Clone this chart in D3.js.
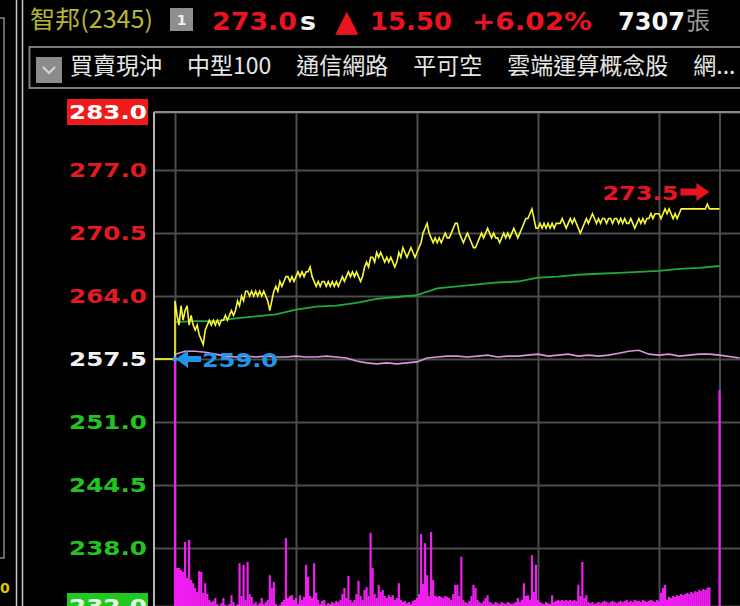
<!DOCTYPE html>
<html><head><meta charset="utf-8">
<script src="https://cdn.jsdelivr.net/npm/d3@7"></script>
<style>html,body{margin:0;padding:0;background:#000;overflow:hidden}svg{display:block}</style>
</head><body>
<svg id="c" width="740" height="606"></svg>
<script>
// ---------------- data ----------------
const stockName = "智邦(2345)";
const lastPrice = 273.0, priceChange = 15.50, changePct = 6.02, totalVolume = 7307;
const refPrice = 257.5, dayHigh = 273.5, dayLow = 259.0;
const tags = ["買賣現沖", "中型100", "通信網路", "平可空", "雲端運算概念股", "網..."];
const priceTicks = [283.0, 277.0, 270.5, 264.0, 257.5, 251.0, 244.5, 238.0, 232.0];
const gridMinutes = [0, 60, 120, 180, 240, 270]; // 9:00 ... 13:30

// per-minute trade price, 9:00 .. 13:30
const prices = [
 263.5,262.0,261.0,263.0,261.5,262.5,263.0,261.0,262.0,261.0,
 260.5,261.0,260.0,259.5,259.0,260.5,261.0,261.5,261.0,261.5,
 261.0,261.5,261.0,261.5,261.5,262.0,261.5,262.0,262.5,262.0,
 262.5,263.5,263.0,264.0,263.5,264.5,264.5,264.0,264.5,264.0,
 264.5,264.0,264.5,264.0,264.5,264.0,263.5,262.5,263.5,264.5,
 265.0,264.5,265.5,265.0,265.5,266.0,266.0,265.5,266.0,265.5,
 266.0,266.5,266.0,266.5,266.0,266.5,266.5,267.0,266.0,265.5,
 265.0,265.5,265.0,265.5,265.5,265.0,265.5,265.0,265.5,265.0,
 265.5,265.0,265.5,266.0,265.5,266.0,266.5,266.0,266.5,266.0,
 266.5,266.0,265.5,266.0,267.0,267.5,267.0,268.0,268.0,267.5,
 268.5,268.0,268.5,268.0,267.5,268.0,267.5,268.0,267.5,267.0,
 267.5,268.5,268.0,269.0,268.5,268.0,268.5,269.0,268.5,268.0,
 268.5,269.0,269.5,270.5,271.0,271.5,270.5,270.0,269.5,270.0,
 269.5,270.0,269.5,270.0,270.5,270.0,270.0,270.5,271.0,271.5,
 271.5,270.5,270.0,269.5,270.0,270.5,270.0,269.5,269.0,269.0,
 269.5,270.0,270.5,270.0,270.5,271.0,270.5,270.0,270.5,270.0,
 270.0,269.5,270.0,270.5,270.0,270.5,270.0,270.5,271.0,270.5,
 270.0,270.5,271.0,271.5,272.0,272.0,272.5,273.0,272.0,271.0,
 271.0,271.5,271.0,271.5,271.0,271.5,271.0,271.5,271.0,271.5,
 271.5,271.5,272.0,271.5,271.0,271.5,272.0,271.5,272.0,271.5,
 271.0,270.5,271.0,271.5,272.0,271.5,272.0,272.5,272.0,271.5,
 272.0,271.5,272.0,272.0,271.5,272.0,272.0,271.5,272.0,272.0,
 271.5,272.0,271.5,272.0,271.5,271.5,272.0,271.5,271.0,271.5,
 272.0,271.5,272.0,271.5,272.0,272.0,272.5,272.0,272.5,272.5,
 272.5,272.0,272.5,273.0,272.5,273.0,272.5,272.0,272.5,272.0,
 272.5,273.0,273.0,273.0,273.0,273.0,273.0,273.0,273.0,273.0,
 273.0,273.0,273.0,273.0,273.5,273.0,273.0,273.0,273.0,273.0,
 273.0
];

// per-minute volume (lots)
const volumes = [
 640,110,110,105,100,175,85,180,80,72,
 60,50,102,100,48,72,45,30,25,28,
 35,20,15,22,35,18,12,20,42,25,
 15,20,122,40,118,30,125,45,38,20,
 25,18,22,35,20,25,30,92,60,75,
 20,15,18,25,30,185,35,40,42,30,
 35,20,42,30,38,118,88,40,35,122,
 48,30,20,28,30,18,22,20,25,22,
 28,25,30,45,60,35,90,30,25,30,
 45,78,40,30,55,62,40,198,110,45,
 35,68,50,55,40,35,42,38,42,30,
 35,72,30,25,28,22,25,20,28,30,
 35,45,195,70,172,92,40,200,80,40,
 38,40,38,35,40,38,35,30,45,68,
 68,40,138,30,25,22,28,40,68,60,
 30,25,22,28,35,42,25,22,20,25,
 22,20,25,22,20,25,22,20,22,25,
 35,25,30,72,40,42,30,142,50,118,
 30,25,22,20,25,22,20,42,25,28,
 30,28,30,28,30,28,30,28,30,28,
 68,40,125,35,42,25,22,25,20,22,
 25,22,25,28,25,22,25,28,25,22,
 25,28,25,28,30,25,28,25,30,28,
 28,25,30,28,25,28,30,28,25,30,
 28,48,60,68,30,38,35,40,38,42,
 40,45,42,45,48,45,50,48,52,50,
 55,52,58,55,60,62,0,0,0,0,
 555
];

// average price line, every 10 minutes
const avgMinutes = [0,10,20,30,40,50,60,70,80,90,100,110,120,130,140,150,160,170,180,190,200,210,220,230,240,250,260,270];
const avgPrices  = [261.3,261.4,261.4,261.7,261.9,262.1,262.6,262.9,263.0,263.3,263.7,263.9,264.1,264.8,265.0,265.2,265.4,265.5,265.9,266.0,266.2,266.3,266.4,266.5,266.6,266.8,266.9,267.1];

// pink reference line, every 5 minutes
const pinkMinutes = [0,5,10,15,20,25,30,35,40,45,50,55,60,65,70,75,80,85,90,95,100,105,110,115,120,125,130,135,140,145,150,155,160,165,170,175,180,185,190,195,200,205,210,215,220,225,230,235,240,245,250,255,260,265,270,280];
const pinkValues  = [258.0,258.3,258.3,258.2,258.0,257.8,257.7,257.8,257.7,257.8,257.7,257.7,257.8,257.7,257.7,257.8,257.7,257.6,257.3,257.1,257.0,257.1,257.0,257.1,257.2,257.6,257.7,257.8,257.8,257.7,257.8,257.9,257.7,257.8,257.8,257.9,258.0,257.8,257.9,258.0,257.8,257.9,257.8,257.9,258.1,258.3,258.4,258.0,257.9,258.0,257.8,257.9,258.0,258.0,257.9,257.6];

// ---------------- layout ----------------
const svg = d3.select("#c");
const W = 740, H = 606;
const plotLeft = 154, plotRight = 760, plotBottom = 640;
const x = d3.scaleLinear().domain([0, 270]).range([175, 719.5]);
const y = d3.scaleLinear().domain([232, 283]).range([606, 112]);
const yVol = d3.scaleLinear().domain([0, 700]).range([612, 332]);
const plotTop = y(283);

const RED = "#ea1420", GREEN = "#22c422", WHITE = "#f2f2f2";
const NUMFONT = "'DejaVu Sans', Verdana, sans-serif";
const CJK = "'Noto Sans CJK TC', 'Noto Sans CJK SC', sans-serif";

svg.append("rect").attr("width", W).attr("height", H).attr("fill", "#000");

// left decorations
svg.append("rect").attr("x", -10).attr("y", 18).attr("width", 14).attr("height", 540)
  .attr("fill", "none").attr("stroke", "#8a8a8a").attr("stroke-width", 1.5);
[16.5, 22.5].forEach(lx => svg.append("line").attr("x1", lx).attr("x2", lx).attr("y1", 0).attr("y2", H)
  .attr("stroke", "#c8c8c8").attr("stroke-width", 1.5));
svg.append("text").attr("x", 0).attr("y", 593).text("0")
  .attr("fill", "#e0c000").attr("font-family", NUMFONT).attr("font-weight", "bold").attr("font-size", 14);

// ---------------- header ----------------
const hdr = svg.append("g");
hdr.append("text").attr("x", 30).attr("y", 28).text(stockName)
  .attr("fill", "#b6b63c").attr("font-family", CJK).attr("font-size", 24)
  .attr("textLength", 123).attr("lengthAdjust", "spacingAndGlyphs");
hdr.append("rect").attr("x", 170).attr("y", 8).attr("width", 23).attr("height", 23).attr("fill", "#8e8e8e");
hdr.append("text").attr("x", 181.5).attr("y", 25).attr("text-anchor", "middle").text("1")
  .attr("fill", "#f0f0f0").attr("font-family", NUMFONT).attr("font-weight", "bold").attr("font-size", 14);
function hText(txt, xx, fill, len, size = 25) {
  return hdr.append("text").attr("x", xx).attr("y", 30).text(txt)
    .attr("fill", fill).attr("font-family", NUMFONT).attr("font-weight", "bold").attr("font-size", size)
    .attr("textLength", len).attr("lengthAdjust", "spacingAndGlyphs");
}
hText(lastPrice.toFixed(1), 212, RED, 85);
hText("s", 300, "#f4f4f4", 16);
hdr.append("text").attr("x", 335).attr("y", 31).text("▲").attr("fill", RED)
  .attr("font-family", NUMFONT).attr("font-size", 30);
hText(priceChange.toFixed(2), 370, RED, 82);
hText("+" + changePct.toFixed(2) + "%", 472, RED, 120);
hText(String(totalVolume), 618, "#f4f4f4", 67);
hdr.append("text").attr("x", 686).attr("y", 29).text("張").attr("fill", "#9a9a9a")
  .attr("font-family", CJK).attr("font-size", 24);

// ---------------- toolbar ----------------
svg.append("rect").attr("x", 29.5).attr("y", 47).attr("width", 740).attr("height", 41)
  .attr("fill", "none").attr("stroke", "#7c7c7c").attr("stroke-width", 2);
svg.append("rect").attr("x", 36).attr("y", 57).attr("width", 26).attr("height", 26).attr("fill", "#8c8c8c");
svg.append("path").attr("d", "M43,67 L49,73 L55,67").attr("fill", "none").attr("stroke", "#d8d8d8").attr("stroke-width", 2);
let tx = 70;
tags.forEach(t => {
  const el = svg.append("text").attr("x", tx).attr("y", 74).text(t)
    .attr("fill", "#e6e6e6").attr("font-family", CJK).attr("font-size", 23);
  tx += el.node().getComputedTextLength() + 25;
});

// ---------------- grid ----------------
const grid = svg.append("g");
grid.append("g").attr("transform", `translate(${plotLeft},0)`)
  .call(d3.axisLeft(y).tickValues(priceTicks).tickSize(-(plotRight - plotLeft)).tickFormat(""))
  .call(g => g.select(".domain").remove())
  .call(g => g.selectAll("line").attr("stroke", "#4c4c4c").attr("stroke-width", 2));
grid.append("g").attr("transform", `translate(0,${plotBottom})`)
  .call(d3.axisBottom(x).tickValues(gridMinutes).tickSize(-(plotBottom - plotTop)).tickFormat(""))
  .call(g => g.select(".domain").remove())
  .call(g => g.selectAll("line").attr("stroke", "#4c4c4c").attr("stroke-width", 2));

// plot border (left, top)
svg.append("line").attr("x1", plotLeft).attr("x2", plotLeft).attr("y1", plotTop).attr("y2", H)
  .attr("stroke", "#b4b4b4").attr("stroke-width", 2);
svg.append("line").attr("x1", plotLeft).attr("x2", plotRight).attr("y1", plotTop).attr("y2", plotTop)
  .attr("stroke", "#8a8a8a").attr("stroke-width", 2);

// ---------------- volume ----------------
svg.append("g").selectAll("rect").data(volumes).join("rect")
  .attr("x", (d, i) => x(i) - 1.1).attr("width", 2.2)
  .attr("y", d => yVol(d)).attr("height", d => yVol(0) - yVol(d))
  .attr("fill", "#f01ef0");

// ---------------- lines ----------------
svg.append("path")
  .attr("d", d3.line().x((d, i) => x(pinkMinutes[i])).y(d => y(d))(pinkValues))
  .attr("fill", "none").attr("stroke", "#dc94dc").attr("stroke-width", 1.6);

svg.append("path")
  .attr("d", d3.line().x((d, i) => x(avgMinutes[i])).y(d => y(d))(avgPrices))
  .attr("fill", "none").attr("stroke", "#1faa3c").attr("stroke-width", 1.8);

// yellow: reference level before open, then minute prices
svg.append("path")
  .attr("d", d3.line()([[plotLeft, y(refPrice)], [x(0), y(refPrice)]]))
  .attr("fill", "none").attr("stroke", "#f0f030").attr("stroke-width", 1.8);
const pricePts = [[x(0), y(refPrice)]].concat(prices.map((p, i) => [x(i), y(p)]));
svg.append("path").attr("d", d3.line()(pricePts))
  .attr("fill", "none").attr("stroke", "#f8f836").attr("stroke-width", 1.6);

// ---------------- annotations ----------------
const hiIdx = prices.indexOf(dayHigh);
const hx = x(hiIdx) + 2, hy = y(dayHigh) - 12;
const ap = d3.path();
ap.moveTo(hx, hy); ap.lineTo(hx - 13, hy - 9); ap.lineTo(hx - 13, hy - 3.5); ap.lineTo(hx - 29, hy - 3.5);
ap.lineTo(hx - 29, hy + 3.5); ap.lineTo(hx - 13, hy + 3.5); ap.lineTo(hx - 13, hy + 9); ap.closePath();
svg.append("path").attr("d", ap.toString()).attr("fill", RED);
svg.append("text").attr("x", hx - 31).attr("y", hy + 8).attr("text-anchor", "end").text(dayHigh.toFixed(1))
  .attr("fill", RED).attr("font-family", NUMFONT).attr("font-weight", "bold").attr("font-size", 20)
  .attr("textLength", 76).attr("lengthAdjust", "spacingAndGlyphs");

const lx0 = x(0) + 1, ly = y(refPrice);
const bp = d3.path();
bp.moveTo(lx0, ly); bp.lineTo(lx0 + 12, ly - 9); bp.lineTo(lx0 + 12, ly - 3); bp.lineTo(lx0 + 25, ly - 3);
bp.lineTo(lx0 + 25, ly + 3); bp.lineTo(lx0 + 12, ly + 3); bp.lineTo(lx0 + 12, ly + 9); bp.closePath();
svg.append("path").attr("d", bp.toString()).attr("fill", "#2196e8");
svg.append("circle").attr("cx", x(0)).attr("cy", ly).attr("r", 2.5).attr("fill", "#2aa0f0");
svg.append("text").attr("x", lx0 + 26).attr("y", ly + 8).text(dayLow.toFixed(1))
  .attr("fill", "#2196e8").attr("font-family", NUMFONT).attr("font-weight", "bold").attr("font-size", 20)
  .attr("textLength", 76).attr("lengthAdjust", "spacingAndGlyphs");

// ---------------- y labels ----------------
const topTick = priceTicks[0], botTick = priceTicks[priceTicks.length - 1];
svg.append("rect").attr("x", 67).attr("y", y(topTick) - 13).attr("width", 81).attr("height", 26).attr("fill", "#f01a1a");
svg.append("rect").attr("x", 67).attr("y", y(botTick) - 13).attr("width", 81).attr("height", 26).attr("fill", "#22c822");
svg.append("g").attr("transform", "translate(147,0)")
  .call(d3.axisLeft(y).tickValues(priceTicks).tickSize(0).tickPadding(0).tickFormat(d3.format(".1f")))
  .call(g => g.select(".domain").remove())
  .call(g => g.selectAll("text")
    .attr("font-family", NUMFONT).attr("font-weight", "bold").attr("font-size", 20)
    .attr("textLength", 78).attr("lengthAdjust", "spacingAndGlyphs")
    .attr("fill", d => d === topTick ? "#ffffff" : d === botTick ? "#e8ffe8" : d > refPrice ? "#e21b23" : d < refPrice ? GREEN : WHITE));
</script>
</body></html>
